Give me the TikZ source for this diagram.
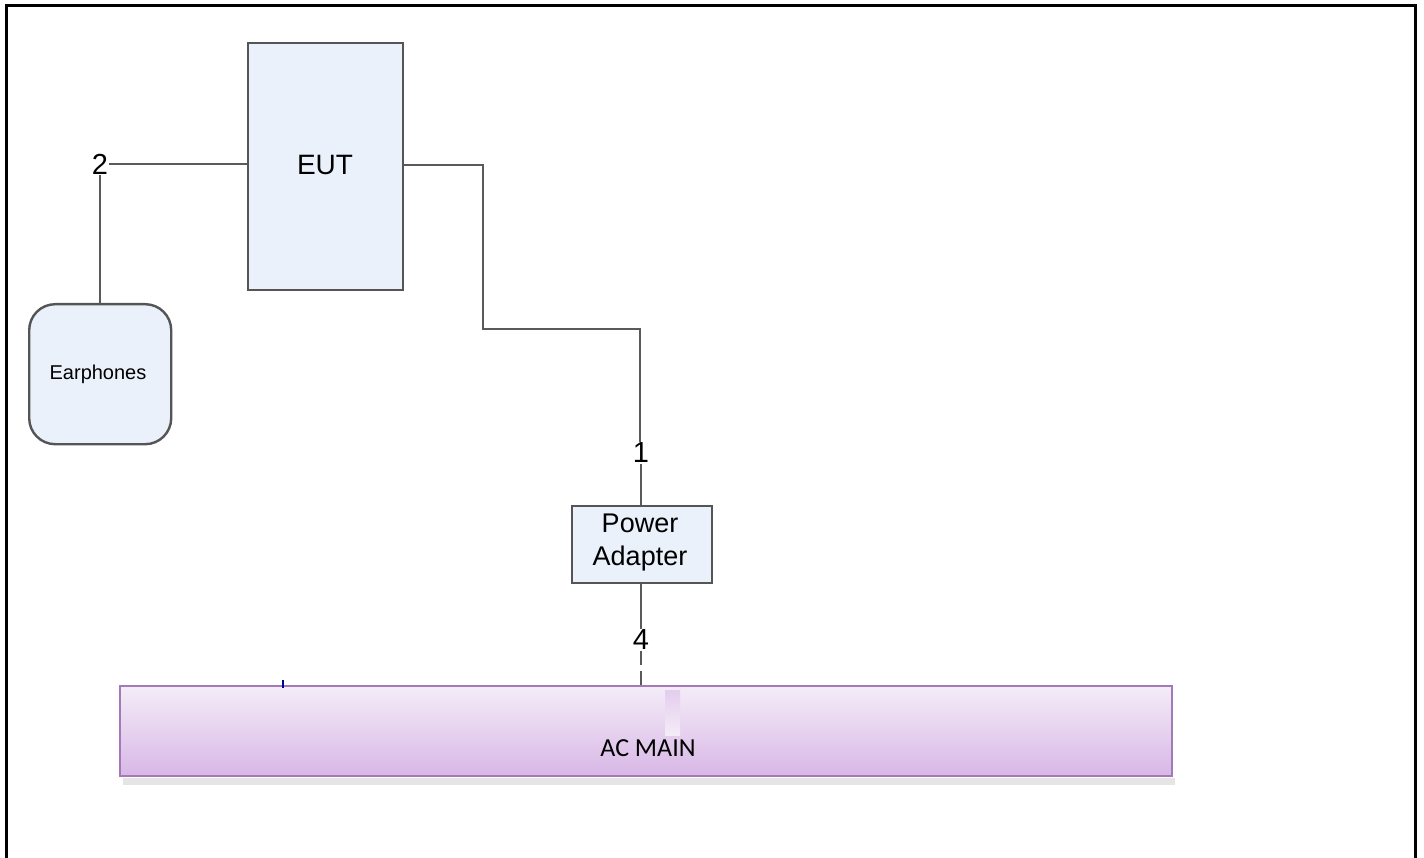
\documentclass[tikz,border=0pt]{standalone}
\usepackage{fontspec}
\setmainfont{Liberation Sans}
\newfontfamily\calib{Carlito}
\begin{document}
\begin{tikzpicture}[x=1pt,y=-1pt,
  box/.style={draw=boxline,line width=2.4pt,fill=boxfill,inner sep=0pt},
  wire/.style={draw=wirec,line width=2.2pt},
  lbl/.style={inner sep=1pt,font=\fontsize{29}{32}\selectfont}]
\definecolor{boxline}{HTML}{555555}
\definecolor{boxfill}{HTML}{EAF1FB}
\definecolor{wirec}{HTML}{5A5A5A}
\definecolor{actop}{HTML}{F4ECF8}
\definecolor{acbot}{HTML}{D8B7E6}
\definecolor{acline}{HTML}{A27AB6}
\useasboundingbox (0,0) rectangle (1424,858);
\fill[white] (0,0) rectangle (1424,858);
\draw[line width=3pt] (6,860) -- (6,6) -- (1415,6) -- (1415,860);
% nodes
\node[box,minimum width=155pt,minimum height=247pt,anchor=north west] (eut) at (247,42) {};
\node[font=\fontsize{28}{30}\selectfont] (euttxt) at (325,165) {EUT};
\node[box,rounded corners=26pt,minimum width=142pt,minimum height=140pt,anchor=north west] (ear) at (28,303) {};
\node[font=\fontsize{20}{22}\selectfont] (eartxt) at (98,374) {Earphones};
\node[box,minimum width=140pt,minimum height=77pt,anchor=north west] (pa) at (571,505) {};
\node[align=center,font=\fontsize{27}{33}\selectfont] (patxt) at (640,543) {Power\\Adapter};
% AC main
\fill[black!10] (123,778) rectangle (1175,785);
\shade[top color=actop,bottom color=acbot,draw=acline,line width=2pt] (120,686) rectangle (1172,776);
\node[inner sep=0pt,minimum width=1052pt,minimum height=90pt,anchor=north west] (ac) at (120,686) {};
\shade[top color=acbot!70,bottom color=actop] (665,690) rectangle (680,735);
\node[font=\calib\fontsize{26}{28}\selectfont] (actxt) at (648,748) {AC MAIN};
% labels
\node[lbl] (n2) at (100,164) {2};
\node[lbl] (n1) at (641,453) {1};
\node[lbl] (n4) at (641,640) {4};
% wires
\coordinate (c1) at (483,165);
\coordinate (c2) at (483,329);
\coordinate (c3) at (640,329);
\draw[wire] (n2.east) -- (eut.west |- n2.east);
\draw[wire] (n2.south) -- (n2.south |- ear.north);
\draw[wire] (eut.east |- c1) -- (c1) -- (c2) -- (c3) -- (c3 |- n1.north);
\draw[wire] (n1.south) -- (n1.south |- pa.north);
\draw[wire] (pa.south -| n4) -- (n4.north);
\draw[wire,dash pattern=on 14pt off 6pt] (n4.south) -- (n4.south |- ac.north);
\draw[blue!60!black,line width=1.2pt] (283,680) -- (283,688);
\end{tikzpicture}
\end{document}
